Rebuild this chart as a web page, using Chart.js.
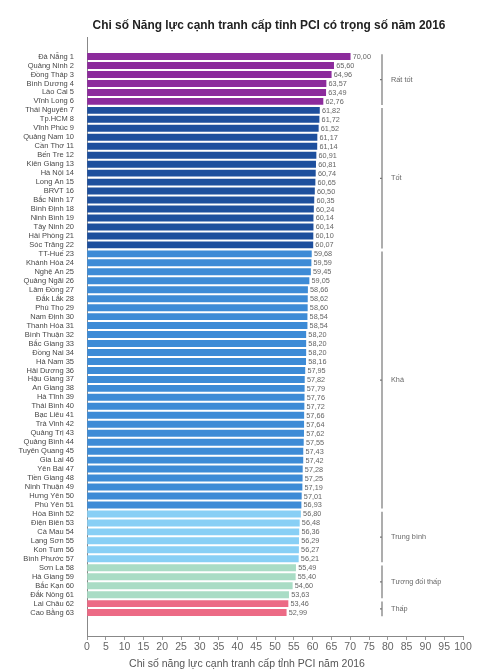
<!DOCTYPE html>
<html lang="vi">
<head>
    <meta charset="UTF-8">
    <title>PCI 2016</title>
    <script src="https://cdn.jsdelivr.net/npm/chart.js"></script>
    <style>
        html, body {
            margin: 0;
            padding: 0;
            background: #ffffff;
        }
        #khung {
            width: 490px;
            height: 671px;
            position: relative;
        }
    </style>
</head>
<body>
    <div id="khung">
        <canvas id="bieuDo"></canvas>
    </div>

    <script>
        const tinh = [
            "Đà Nẵng", "Quảng Ninh", "Đồng Tháp", "Bình Dương", "Lào Cai", "Vĩnh Long",
            "Thái Nguyên", "Tp.HCM", "Vĩnh Phúc", "Quảng Nam", "Cần Thơ", "Bến Tre",
            "Kiên Giang", "Hà Nội", "Long An", "BRVT", "Bắc Ninh", "Bình Định",
            "Ninh Bình", "Tây Ninh", "Hải Phòng", "Sóc Trăng", "TT-Huế", "Khánh Hòa",
            "Nghệ An", "Quảng Ngãi", "Lâm Đồng", "Đắk Lắk", "Phú Thọ", "Nam Định",
            "Thanh Hóa", "Bình Thuận", "Bắc Giang", "Đồng Nai", "Hà Nam", "Hải Dương",
            "Hậu Giang", "An Giang", "Hà Tĩnh", "Thái Bình", "Bạc Liêu", "Trà Vinh",
            "Quảng Trị", "Quảng Bình", "Tuyên Quang", "Gia Lai", "Yên Bái", "Tiền Giang",
            "Ninh Thuận", "Hưng Yên", "Phú Yên", "Hòa Bình", "Điện Biên", "Cà Mau",
            "Lạng Sơn", "Kon Tum", "Bình Phước", "Sơn La", "Hà Giang", "Bắc Kạn",
            "Đắk Nông", "Lai Châu", "Cao Bằng"
        ];

        const diem = [
            70.00, 65.60, 64.96, 63.57, 63.49, 62.76,
            61.82, 61.72, 61.52, 61.17, 61.14, 60.91,
            60.81, 60.74, 60.65, 60.50, 60.35, 60.24,
            60.14, 60.14, 60.10, 60.07, 59.68, 59.59,
            59.45, 59.05, 58.66, 58.62, 58.60, 58.54,
            58.54, 58.20, 58.20, 58.20, 58.16, 57.95,
            57.82, 57.79, 57.76, 57.72, 57.66, 57.64,
            57.62, 57.55, 57.43, 57.42, 57.28, 57.25,
            57.19, 57.01, 56.93, 56.80, 56.48, 56.36,
            56.29, 56.27, 56.21, 55.49, 55.40, 54.60,
            53.63, 53.46, 52.99
        ];

        // nhóm xếp hạng và hạng cuối của mỗi nhóm
        const nhomTen = ["Rất tốt", "Tốt", "Khá", "Trung bình", "Tương đối thấp", "Thấp"];
        const nhomCuoi = [6, 22, 51, 57, 61, 63];

        const xTicks = [0, 5, 10, 15, 20, 25, 30, 35, 40, 45, 50, 55, 60, 65, 70, 75, 80, 85, 90, 95, 100];

        const tieuDe = "Chi số Năng lực cạnh tranh cấp tỉnh PCI có trọng số năm 2016";
        const tieuDeTrucX = "Chi số năng lực cạnh tranh cấp tỉnh PCI năm 2016";

        const mauNhom = ["#8c2b9c", "#1d4f9d", "#3d8bd6", "#88cff5", "#a9dcc5", "#ec6a85"];

        function nhomCua(i) {
            const hang = i + 1;
            return nhomCuoi.findIndex(c => hang <= c);
        }

        const diemDuLieu = diem.map((v, i) => ({ x: v, y: i }));

        const phongChu = "'Liberation Sans', Arial, sans-serif";

        const pluginChu = {
            id: "pluginChu",
            afterDatasetsDraw(chart) {
                const ctx = chart.ctx;
                const meta = chart.getDatasetMeta(0);
                ctx.save();
                ctx.font = "7.3px " + phongChu;
                ctx.fillStyle = "#666";
                ctx.textBaseline = "middle";
                ctx.textAlign = "left";
                meta.data.forEach((bar, i) => {
                    ctx.fillText(diem[i].toFixed(2).replace(".", ","), bar.x + 2.5, bar.y + 0.5);
                });
                ctx.restore();
            },
            afterDraw(chart) {
                const ctx = chart.ctx;
                const y = chart.scales.y;
                ctx.save();

                // tiêu đề
                ctx.font = "bold 11.9px " + phongChu;
                ctx.fillStyle = "#222";
                ctx.textAlign = "center";
                ctx.textBaseline = "middle";
                ctx.fillText(tieuDe, 269, 26);

                // tiêu đề trục x
                ctx.font = "10.5px " + phongChu;
                ctx.fillStyle = "#555";
                ctx.fillText(tieuDeTrucX, 247, 664);

                // ngoặc nhóm
                const xNgoac = 382;
                let dau = 0;
                nhomCuoi.forEach((cuoi, k) => {
                    const y1 = y.getPixelForValue(dau - 0.25);
                    const y2 = y.getPixelForValue(cuoi - 1 + 0.4);
                    const giua = (y1 + y2) / 2;
                    ctx.strokeStyle = "#777";
                    ctx.lineWidth = 1.2;
                    ctx.beginPath();
                    ctx.moveTo(xNgoac, y1);
                    ctx.lineTo(xNgoac, y2);
                    ctx.moveTo(xNgoac, giua);
                    ctx.lineTo(xNgoac - 2, giua);
                    ctx.stroke();
                    ctx.font = "7.3px " + phongChu;
                    ctx.fillStyle = "#666";
                    ctx.textAlign = "left";
                    ctx.fillText(nhomTen[k], xNgoac + 9, giua);
                    dau = cuoi;
                });
                ctx.restore();
            }
        };

        const ctx = document.getElementById("bieuDo").getContext("2d");
        new Chart(ctx, {
            type: "bar",
            data: {
                datasets: [{
                    data: diemDuLieu,
                    backgroundColor: diem.map((_, i) => mauNhom[nhomCua(i)]),
                    barThickness: 6.3,
                    borderWidth: 0
                }]
            },
            options: {
                indexAxis: "y",
                responsive: true,
                maintainAspectRatio: false,
                animation: false,
                layout: {
                    padding: { left: 0, right: 27, top: 37, bottom: 0 }
                },
                plugins: {
                    legend: { display: false },
                    tooltip: { enabled: false },
                    title: { display: false }
                },
                scales: {
                    x: {
                        type: "linear",
                        min: 0,
                        max: 100,
                        afterBuildTicks(scale) {
                            scale.ticks = xTicks.map(v => ({ value: v }));
                        },
                        afterFit(scale) {
                            scale.height = 35;
                        },
                        grid: {
                            display: true,
                            drawOnChartArea: false,
                            drawTicks: true,
                            tickLength: 4,
                            color: "#999"
                        },
                        border: { color: "#888", width: 1 },
                        ticks: {
                            font: { size: 10.5, family: phongChu },
                            color: "#666",
                            padding: 1,
                            maxRotation: 0,
                            autoSkip: false
                        }
                    },
                    y: {
                        type: "linear",
                        reverse: true,
                        min: -1.65,
                        max: 64.08,
                        afterBuildTicks(scale) {
                            scale.ticks = tinh.map((_, i) => ({ value: i }));
                        },
                        afterFit(scale) {
                            scale.width = 87;
                        },
                        grid: { display: false },
                        border: { display: true, color: "#888", width: 1 },
                        ticks: {
                            autoSkip: false,
                            font: { size: 7.5, family: phongChu },
                            color: "#484848",
                            padding: 5,
                            callback: (v) => tinh[v] + " " + (v + 1)
                        }
                    }
                }
            },
            plugins: [pluginChu]
        });
    </script>
</body>
</html>
